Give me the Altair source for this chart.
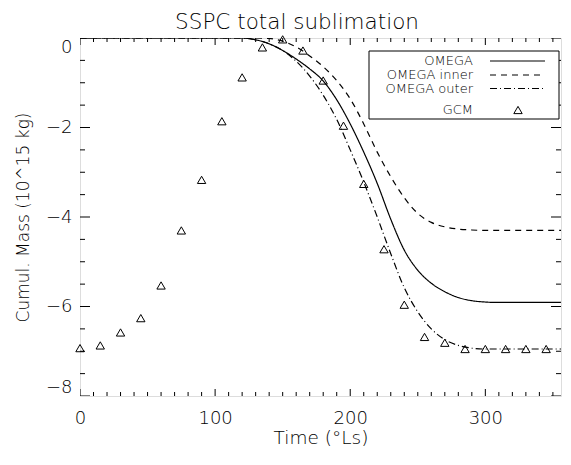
import altair as alt
import pandas as pd

# ---------------- data ----------------
gcm_ls = [0, 15, 30, 45, 60, 75, 90, 105, 120, 135, 150, 165, 180, 195,
          210, 225, 240, 255, 270, 285, 300, 315, 330, 345]
gcm_mass = [-6.93, -6.87, -6.58, -6.26, -5.53, -4.30, -3.17, -1.86, -0.88,
            -0.21, -0.03, -0.28, -0.95, -1.96, -3.26, -4.72, -5.96, -6.68,
            -6.81, -6.95, -6.95, -6.95, -6.95, -6.95]

omega_ls = [0, 10, 20, 30, 40, 50, 60, 70, 80, 90, 100, 110, 120, 130, 140,
            150, 160, 170, 180, 190, 200, 210, 220, 230, 240, 250, 260, 270,
            280, 290, 300, 310, 320, 330, 340, 350, 356]
omega_total = [0, 0, 0, 0, 0, 0, 0, 0, 0, 0, 0, 0, 0, -0.04, -0.13, -0.28,
               -0.47, -0.69, -0.96, -1.38, -1.92, -2.55, -3.25, -4.05, -4.74,
               -5.19, -5.48, -5.67, -5.80, -5.87, -5.90, -5.91, -5.91, -5.91,
               -5.91, -5.91, -5.91]
omega_inner = [0, 0, 0, 0, 0, 0, 0, 0, 0, 0, 0, 0, 0, 0, -0.01, -0.07,
               -0.20, -0.40, -0.64, -0.95, -1.36, -1.92, -2.55, -3.10, -3.57,
               -3.92, -4.12, -4.22, -4.27, -4.29, -4.30, -4.30, -4.30, -4.30,
               -4.30, -4.30, -4.30]
omega_outer = [0, 0, 0, 0, 0, 0, 0, 0, 0, 0, 0, 0, 0, -0.04, -0.13, -0.28,
               -0.52, -0.85, -1.28, -1.82, -2.50, -3.22, -4.00, -4.82, -5.58,
               -6.12, -6.50, -6.74, -6.87, -6.93, -6.95, -6.95, -6.95, -6.95,
               -6.95, -6.95, -6.95]

series_names = ["OMEGA", "OMEGA inner", "OMEGA outer"]
legend_labels = ["OMEGA", "OMEGA inner", "OMEGA outer", "GCM"]
title_text = "SSPC total sublimation"
x_label_values = [0, 100, 200, 300]
y_label_values = [-8, -6, -4, -2, 0]
x_tick_values = list(range(0, 360, 10))
y_tick_values = [-8.0, -7.5, -7.0, -6.5, -6.0, -5.5, -5.0, -4.5, -4.0, -3.5,
                 -3.0, -2.5, -2.0, -1.5, -1.0, -0.5, 0.0]
x_domain = [0, 356]
y_domain = [-8, 0]

# ---------------- tables ----------------
lines_df = pd.DataFrame({
    "ls": omega_ls * 3,
    "mass": omega_total + omega_inner + omega_outer,
    "series": [s for s in series_names for _ in omega_ls],
})
gcm_df = pd.DataFrame({"ls": gcm_ls, "mass": gcm_mass})
xt_df = pd.DataFrame(
    [(t, e, "major" if t % 100 == 0 else "minor")
     for t in x_tick_values for e in y_domain],
    columns=["t", "edge", "kind"])
yt_df = pd.DataFrame(
    [(t, e, "major" if t % 2 == 0 else "minor")
     for t in y_tick_values for e in x_domain],
    columns=["t", "edge", "kind"])
one = pd.DataFrame({"a": [0]})

FONT = "DejaVu Sans"
FW = 200
W, H = 481, 358

x_scale = alt.Scale(domain=x_domain, nice=False, zero=False)
y_scale = alt.Scale(domain=y_domain, nice=False, zero=False)
x_axis = alt.Axis(values=x_label_values, ticks=False, tickSize=0, domain=False,
                  grid=False, labelFont=FONT, labelFontSize=18,
                  labelFontWeight=FW,
                  labelColor="black", labelPadding=13, labelFlush=False,
                  title="Time (°Ls)", titleFont=FONT, titleFontSize=18.5,
                  titleFontWeight=FW, titleColor="black",
                  titleBaseline="alphabetic", titleY=47, titleX=W / 2,
                  titleAlign="center")
y_axis = alt.Axis(values=y_label_values, ticks=False, tickSize=0, domain=False,
                  grid=False, labelFont=FONT, labelFontSize=18,
                  labelFontWeight=FW,
                  labelColor="black", labelPadding=8, labelFlush=True,
                  labelFlushOffset=0,
                  title="Cumul. Mass (10^15 kg)", titleFont=FONT,
                  titleFontSize=17, titleFontWeight=FW,
                  titleColor="black", titleAngle=270,
                  titleBaseline="alphabetic", titleX=-52, titleY=H / 2,
                  titleAlign="center")


def xenc(field):
    return alt.X(f"{field}:Q", scale=x_scale, axis=x_axis)


def yenc(field):
    return alt.Y(f"{field}:Q", scale=y_scale, axis=y_axis)


dash_range = [[1, 0], [6, 5], [7, 3, 1, 3]]

lines = alt.Chart(lines_df).mark_line(
    interpolate="monotone", color="black", strokeWidth=1.2, clip=True
).encode(
    x=xenc("ls"), y=yenc("mass"),
    strokeDash=alt.StrokeDash("series:N", scale=alt.Scale(domain=series_names, range=dash_range), legend=None),
    detail="series:N",
)

gcm = alt.Chart(gcm_df).mark_point(
    shape="triangle-up", filled=False, size=70, strokeWidth=1,
    color="black", opacity=1
).encode(x=xenc("ls"), y=yenc("mass"))

xt = alt.Chart(xt_df).mark_tick(
    orient="vertical", clip=True, thickness=1, color="black", opacity=1
).encode(
    x=xenc("t"), y=yenc("edge"),
    size=alt.Size("kind:N", scale=alt.Scale(domain=["minor", "major"], range=[8, 14]), legend=None),
)

yt = alt.Chart(yt_df).mark_tick(
    orient="horizontal", clip=True, thickness=1, color="black", opacity=1
).encode(
    y=yenc("t"), x=xenc("edge"),
    size=alt.Size("kind:N", scale=alt.Scale(domain=["minor", "major"], range=[10, 20]), legend=None),
)

# ---------------- title as text above the plot ----------------
title = alt.Chart(one).mark_text(
    align="center", baseline="alphabetic", font=FONT, fontSize=21.5,
    fontWeight=FW, color="black"
).encode(x=alt.value(217), y=alt.value(-9), text=alt.value(title_text))

# ---------------- legend box (label left, sample right) ----------------
box = alt.Chart(one).mark_rect(fill="white", stroke="black", strokeWidth=1).encode(
    x=alt.value(289), x2=alt.value(479), y=alt.value(13), y2=alt.value(81))

row_y = [23, 37, 50.5, 72]
legend_layers = [box]
for lab, yy in zip(legend_labels, row_y):
    legend_layers.append(
        alt.Chart(one).mark_text(align="right", baseline="middle", font=FONT,
                                 fontSize=13, fontWeight=FW, color="black").encode(
            x=alt.value(393), y=alt.value(yy), text=alt.value(lab)))
for dash, yy in zip(dash_range, row_y[:3]):
    legend_layers.append(
        alt.Chart(one).mark_rule(color="black", strokeWidth=1.2, strokeDash=dash).encode(
            x=alt.value(410), x2=alt.value(465), y=alt.value(yy)))
legend_layers.append(
    alt.Chart(one).mark_point(shape="triangle-up", filled=False, size=70,
                              strokeWidth=1, color="black", opacity=1).encode(
        x=alt.value(438), y=alt.value(row_y[3])))

chart = alt.layer(lines, gcm, xt, yt, title, *legend_layers).resolve_scale(
    size="independent"
).properties(
    width=W, height=H,
    autosize=alt.AutoSizeParams(type="none"),
    padding={"left": 72, "top": 30, "right": 2, "bottom": 53},
).configure_view(stroke="black", strokeWidth=1).configure(background="white")

chart.save("out.html", embed_options={"renderer": "svg", "actions": False})
